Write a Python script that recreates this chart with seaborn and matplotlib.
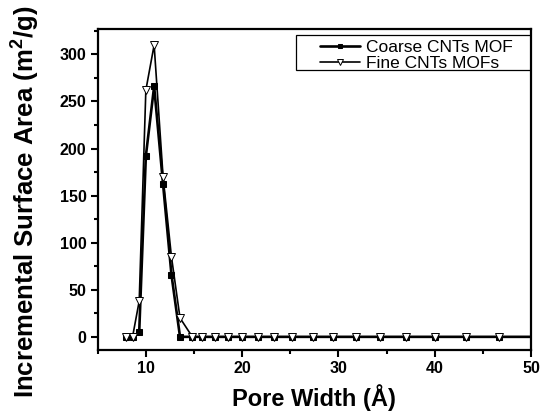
import seaborn as sns
import matplotlib.pyplot as plt
import pandas as pd
from matplotlib.ticker import MultipleLocator
from matplotlib.patches import Rectangle

# pore widths (A), last one sits just past the axis edge
pore_width = [7.93, 8.62, 9.31, 10.0, 10.86, 11.79, 12.66, 13.55, 14.83, 15.86,
              17.17, 18.55, 20.0, 21.61, 23.27, 25.17, 27.34, 29.47, 31.79,
              34.30, 37.06, 39.99, 43.2, 46.64, 50.5]
coarse_area = [0, 0, 5, 192, 266, 162, 66, 0, 0, 0,
               0, 0, 0, 0, 0, 0, 0, 0, 0,
               0, 0, 0, 0, 0, 0]
fine_area = [0, 0, 38, 262, 310, 170, 85, 20, 0, 0,
             0, 0, 0, 0, 0, 0, 0, 0, 0,
             0, 0, 0, 0, 0, 0]

df = pd.DataFrame({"Pore Width": pore_width, "Coarse": coarse_area, "Fine": fine_area})

sns.set_style("ticks", rc={"axes.edgecolor": "black", "text.color": "black",
                           "axes.labelcolor": "black", "xtick.color": "black",
                           "ytick.color": "black"})
plt.rcParams["font.family"] = ["Liberation Sans", "DejaVu Sans"]
plt.rcParams["mathtext.fontset"] = "custom"
plt.rcParams["mathtext.rm"] = "Liberation Sans"
plt.rcParams["mathtext.bf"] = "Liberation Sans:bold"

fig = plt.figure(figsize=(5.41, 4.13), dpi=100)
ax = fig.add_axes([0.1806, 0.1525, 0.8009, 0.7773])

sns.lineplot(x="Pore Width", y="Coarse", data=df, ax=ax, color="black", lw=1.9,
             marker="s", markersize=3.8, markerfacecolor="black", markeredgecolor="black",
             label="Coarse CNTs MOF", zorder=2)
sns.lineplot(x="Pore Width", y="Fine", data=df, ax=ax, color="black", lw=1.2,
             marker="v", markersize=5.2, markerfacecolor="white", markeredgecolor="black",
             markeredgewidth=0.7, label="Fine CNTs MOFs", zorder=3)

ax.set_xlim(5, 50)
ax.set_ylim(-14, 327)
ax.xaxis.set_major_locator(MultipleLocator(10))
ax.xaxis.set_minor_locator(MultipleLocator(5))
ax.yaxis.set_major_locator(MultipleLocator(50))
ax.yaxis.set_minor_locator(MultipleLocator(25))
ax.tick_params(which="major", direction="out", length=5, width=1.5, labelsize=11.5, pad=3)
ax.tick_params(which="minor", direction="out", length=3, width=1.5)
for lab in ax.get_xticklabels() + ax.get_yticklabels():
    lab.set_fontweight("bold")
for sp in ax.spines.values():
    sp.set_visible(True)
    sp.set_linewidth(1.6)

ax.set_xlabel("Pore Width (Å)", fontsize=17, fontweight="bold", labelpad=6)
ax.set_ylabel(r"Incremental Surface Area (m$^{\mathbf{2}}$/g)", fontsize=18.5,
              fontweight="bold")
ax.yaxis.set_label_coords(-0.13, 0.461)

# legend: frameless text block plus a plain square box around it
leg = ax.legend(loc="upper left", bbox_to_anchor=(0.513, 0.967), fontsize=12.5,
                frameon=False, handlelength=2.3, borderaxespad=0, borderpad=0,
                labelspacing=0.06, markerscale=0.75, handletextpad=0.35)
ax.add_patch(Rectangle((0.458, 0.872), 0.5417, 0.109, transform=ax.transAxes,
                       fill=False, edgecolor="black", lw=0.9, zorder=5))

fig.savefig("out.png", dpi=100)
